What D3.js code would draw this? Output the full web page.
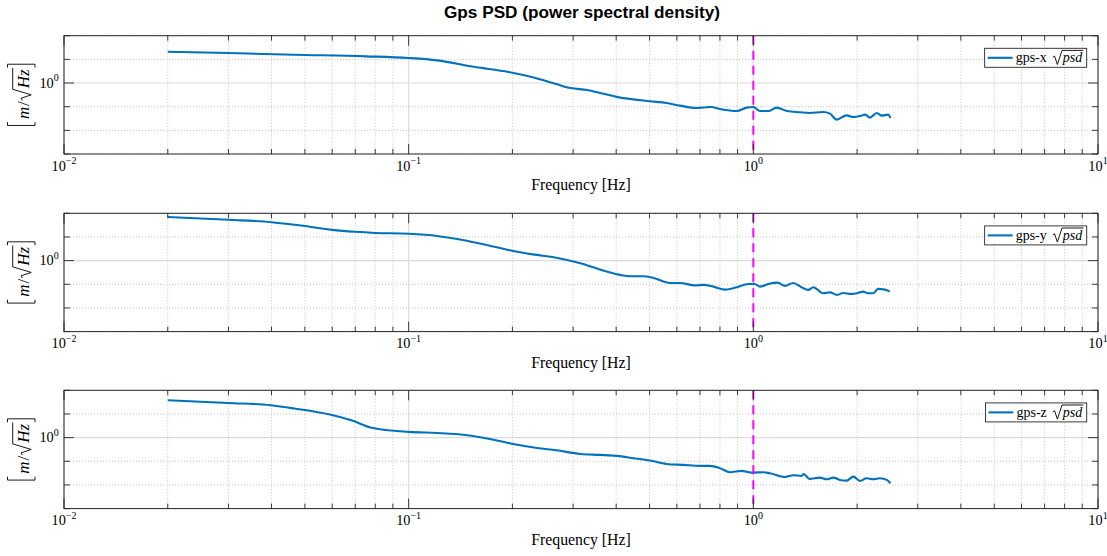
<!DOCTYPE html>
<html><head><meta charset="utf-8">
<script src="https://cdn.jsdelivr.net/npm/d3@7"></script>
<style>body{margin:0;background:#fff;} svg{display:block}</style>
</head><body>
<svg id="c" width="1107" height="556"></svg>
<script>
// ---------------- DATA ----------------
const freqX = [0.02,0.03,0.0466,0.0751,0.1,0.121,0.156,0.195,0.229,0.268,0.295,0.330,0.359,0.401,0.501,0.56,0.612,0.684,0.748,0.818,0.895,0.957,1.0,1.045,1.105,1.169,1.25,1.366,1.459,1.596,1.668,1.745,1.866,1.95,2.04,2.11,2.18,2.28,2.36,2.46,2.50];
const psdX  = [21,18.5,15.7,13.4,11.4,9.07,4.74,2.92,1.74,0.907,0.615,0.506,0.38,0.26,0.169,0.143,0.111,0.0878,0.0968,0.0751,0.0656,0.0912,0.0968,0.0656,0.0656,0.0912,0.0656,0.0578,0.054,0.0594,0.0509,0.0284,0.0431,0.0366,0.0403,0.0462,0.0345,0.054,0.0419,0.0462,0.0332];

const freqY = [0.02,0.03,0.04,0.05,0.06,0.07,0.08,0.1,0.121,0.142,0.166,0.201,0.229,0.268,0.315,0.359,0.41,0.439,0.48,0.513,0.573,0.612,0.677,0.716,0.765,0.828,0.895,0.967,1.01,1.045,1.105,1.176,1.236,1.306,1.381,1.444,1.492,1.596,1.668,1.751,1.823,1.927,2.015,2.083,2.145,2.226,2.30,2.41,2.49];
const psdY  = [70,53,42,29,20,16.5,14.8,13.6,11.0,7.6,4.8,2.55,1.84,1.33,0.774,0.417,0.249,0.217,0.217,0.186,0.114,0.114,0.0903,0.094,0.0796,0.0595,0.0745,0.1035,0.1035,0.0796,0.1035,0.1175,0.0853,0.114,0.0745,0.0578,0.0745,0.0415,0.0457,0.0355,0.0431,0.0392,0.0431,0.049,0.0415,0.0415,0.0637,0.0595,0.049];

const freqZ = [0.02,0.03,0.0397,0.0466,0.0591,0.0682,0.0787,0.1,0.121,0.137,0.172,0.201,0.236,0.268,0.315,0.359,0.401,0.449,0.501,0.56,0.627,0.70,0.748,0.80,0.855,0.925,0.988,1.069,1.117,1.236,1.306,1.381,1.40,1.454,1.56,1.632,1.706,1.783,1.866,1.95,2.04,2.13,2.23,2.33,2.44,2.50];
const psdZ  = [37.8,29.2,23.3,17,9.5,5.4,2.53,1.75,1.57,1.42,0.878,0.54,0.366,0.292,0.204,0.186,0.169,0.135,0.107,0.0773,0.0702,0.0637,0.0637,0.0509,0.0345,0.0392,0.0332,0.0345,0.0313,0.0218,0.0258,0.024,0.0292,0.018,0.0204,0.0175,0.0204,0.0163,0.0152,0.0225,0.0148,0.0192,0.0175,0.0192,0.0163,0.0118];

const seriesNames = ["gps-x","gps-y","gps-z"];
const xTickExps = [-2,-1,0,1];
const yTickExps = [0];
const markerFreq = 1;
const chartTitle = "Gps PSD (power spectral density)";
const xLabelText = "Frequency [Hz]";

// ---------------- LAYOUT ----------------
const SERIF = "'Liberation Serif','Times New Roman',serif";
const SANS = "'Liberation Sans',Arial,Helvetica,sans-serif";
const left = 64, right = 1098;
const panelTops = [35.7, 213.3, 390.3], ph = 118.3;
const lineColor = "#0072BD", axisColor = "#262626";

const svg = d3.select("#c");
svg.append("rect").attr("width",1107).attr("height",556).attr("fill","#fff");

const x = d3.scaleLog().domain([1e-2, 1e1]).range([left, right]);

svg.append("text").attr("x", (left+right)/2 + 1).attr("y", 18)
  .attr("text-anchor","middle").attr("font-family",SANS).attr("font-weight","bold")
  .attr("font-size",17.2).attr("fill","#000").text(chartTitle);

// rich text helper
function layout(g, pieces, size) {
  let cx = 0;
  pieces.forEach(p => {
    if (p.type === "text") {
      const t = g.append("text").attr("x", cx).attr("y", 0)
        .attr("font-family", SERIF).attr("font-size", p.size || size)
        .attr("font-style", p.italic ? "italic" : "normal").attr("fill","#000").text(p.text);
      cx += t.node().getComputedTextLength() + (p.after || 0);
    } else if (p.type === "sqrt") {
      const s = p.size || size;
      const rw = 0.72 * s;
      const start = cx;
      cx += rw;
      const t = g.append("text").attr("x", cx).attr("y", 0)
        .attr("font-family", SERIF).attr("font-size", s)
        .attr("font-style","italic").attr("fill","#000").text(p.text);
      const iw = t.node().getComputedTextLength();
      const topY = -p.top * s;
      g.append("path").attr("fill","none").attr("stroke","#000").attr("stroke-width",0.9)
        .attr("stroke-linejoin","miter")
        .attr("d", `M${start},${-0.36*s} L${start+0.13*s},${-0.44*s} L${start+0.33*s},${0.16*s} L${start+0.66*s},${topY} L${cx+iw+0.08*s},${topY}`);
      cx += iw + 0.1*s;
    } else if (p.type === "bracket") {
      const w = 3.4;
      const path = p.side === "l"
        ? `M${cx+w},${p.y0} L${cx},${p.y0} L${cx},${p.y1} L${cx+w},${p.y1}`
        : `M${cx},${p.y0} L${cx+w},${p.y0} L${cx+w},${p.y1} L${cx},${p.y1}`;
      g.append("path").attr("fill","none").attr("stroke","#000").attr("stroke-width",0.9).attr("d", path);
      cx += w + (p.after || 0);
    }
  });
  return cx;
}

const series = [
  {f: freqX, v: psdX, name: seriesNames[0]},
  {f: freqY, v: psdY, name: seriesNames[1]},
  {f: freqZ, v: psdZ, name: seriesNames[2]}
];

const xMinor = [];
for (let d = -2; d < 1; d++) for (let k = 2; k <= 9; k++) xMinor.push(k * Math.pow(10, d));
const xMajor = d3.range(-2, 2).map(e => Math.pow(10, e));

series.forEach((s, i) => {
  const top = panelTops[i], bottom = top + ph;
  const y = d3.scaleLog().domain([1e-3, 1e2]).range([bottom, top]);
  const yDec = d3.range(-3, 3).map(e => Math.pow(10, e));
  const g = svg.append("g");

  // grids
  xMinor.forEach(v => g.append("line").attr("x1", x(v)).attr("x2", x(v)).attr("y1", top).attr("y2", bottom)
    .attr("stroke","#b8b8b8").attr("stroke-width",0.8).attr("stroke-dasharray","1,2"));
  yDec.forEach(v => {
    const major = yTickExps.includes(Math.round(Math.log10(v)));
    g.append("line").attr("x1", left).attr("x2", right).attr("y1", y(v)).attr("y2", y(v))
      .attr("stroke", major ? "#dcdcdc" : "#b8b8b8").attr("stroke-width", major ? 1.2 : 0.8)
      .attr("stroke-dasharray", major ? null : "1,2");
  });
  xMajor.forEach(v => g.append("line").attr("x1", x(v)).attr("x2", x(v)).attr("y1", top).attr("y2", bottom)
    .attr("stroke","#dcdcdc").attr("stroke-width",1.2));

  // clip
  const cid = "clip" + i;
  svg.append("clipPath").attr("id", cid).append("rect").attr("x", left).attr("y", top).attr("width", right-left).attr("height", ph);

  const pts = s.f.map((f, j) => [f, s.v[j]]);
  const line = d3.line().x(d => x(d[0])).y(d => y(d[1])).curve(d3.curveMonotoneX);
  g.append("path").attr("clip-path", `url(#${cid})`).datum(pts).attr("d", line)
    .attr("fill","none").attr("stroke", lineColor).attr("stroke-width", 2.1).attr("stroke-linejoin","round");

  // marker line
  g.append("line").attr("x1", x(markerFreq)).attr("x2", x(markerFreq)).attr("y1", top).attr("y2", bottom)
    .attr("stroke","#FF00FF").attr("stroke-width",2).attr("stroke-dasharray","9,6");

  // ticks
  const tickG = g.append("g").attr("stroke", axisColor).attr("stroke-width", 0.9);
  xMinor.forEach(v => {
    tickG.append("line").attr("x1", x(v)).attr("x2", x(v)).attr("y1", bottom).attr("y2", bottom-5);
    tickG.append("line").attr("x1", x(v)).attr("x2", x(v)).attr("y1", top).attr("y2", top+5);
  });
  xMajor.forEach(v => {
    tickG.append("line").attr("x1", x(v)).attr("x2", x(v)).attr("y1", bottom).attr("y2", bottom-10);
    tickG.append("line").attr("x1", x(v)).attr("x2", x(v)).attr("y1", top).attr("y2", top+10);
  });
  yDec.forEach(v => {
    const major = yTickExps.includes(Math.round(Math.log10(v)));
    const L = major ? 10 : 6;
    tickG.append("line").attr("x1", left).attr("x2", left+L).attr("y1", y(v)).attr("y2", y(v));
    tickG.append("line").attr("x1", right).attr("x2", right-L).attr("y1", y(v)).attr("y2", y(v));
  });

  // box
  g.append("rect").attr("x", left).attr("y", top).attr("width", right-left).attr("height", ph)
    .attr("fill","none").attr("stroke", axisColor).attr("stroke-width", 1);

  // x tick labels
  xTickExps.forEach(e => {
    const t = g.append("text").attr("x", x(Math.pow(10, e))).attr("y", bottom + 16.7)
      .attr("text-anchor","middle").attr("font-family", SERIF).attr("font-size", 14.3).attr("fill","#000");
    t.append("tspan").text("10");
    t.append("tspan").attr("dy", -6.5).attr("font-size", 10).text(e < 0 ? "\u2212" + (-e) : String(e));
  });
  // y tick labels
  yTickExps.forEach(e => {
    const t = g.append("text").attr("x", 58.7).attr("y", y(Math.pow(10, e)) + 4.6)
      .attr("text-anchor","end").attr("font-family", SERIF).attr("font-size", 14.3).attr("fill","#000");
    t.append("tspan").text("10");
    t.append("tspan").attr("dy", -6.5).attr("font-size", 10).text(e < 0 ? "\u2212" + (-e) : String(e));
  });

  // x label
  g.append("text").attr("x", (left+right)/2).attr("y", bottom + 36)
    .attr("text-anchor","middle").attr("font-family", SERIF).attr("font-size", 15.8).attr("fill","#000").text(xLabelText);

  // y label
  const yl = g.append("g").attr("transform", `translate(28.5,${(top+bottom)/2}) rotate(-90)`);
  const yli = yl.append("g");
  const w = layout(yli, [
    {type:"bracket", side:"l", y0:-21, y1:6.5, after:3},
    {type:"text", text:"m", italic:true, after:0.8},
    {type:"text", text:"/", after:0.8},
    {type:"sqrt", text:"Hz", top:0.93},
    {type:"bracket", side:"r", y0:-21, y1:6.5}
  ], 17);
  yli.attr("transform", `translate(${-w/2},0)`);

  // legend
  const lg = g.append("g");
  const box = lg.append("rect").attr("fill","#fff").attr("stroke", axisColor).attr("stroke-width", 0.9);
  const lt = lg.append("g");
  const tw = layout(lt, [
    {type:"text", text: s.name, after: 6},
    {type:"sqrt", text:"psd", top:0.85}
  ], 14);
  const sampleLen = 25, pad = 3;
  const bw = pad + sampleLen + 3 + tw + 3;
  const bx = right - 11.3 - bw, by = top + 12.6, bh = 19;
  box.attr("x", bx).attr("y", by).attr("width", bw).attr("height", bh);
  lg.append("line").attr("x1", bx + pad).attr("x2", bx + pad + sampleLen).attr("y1", by + bh/2).attr("y2", by + bh/2)
    .attr("stroke", lineColor).attr("stroke-width", 2.1);
  lt.attr("transform", `translate(${bx + pad + sampleLen + 3},${by + 14})`);
});
</script>
</body></html>
